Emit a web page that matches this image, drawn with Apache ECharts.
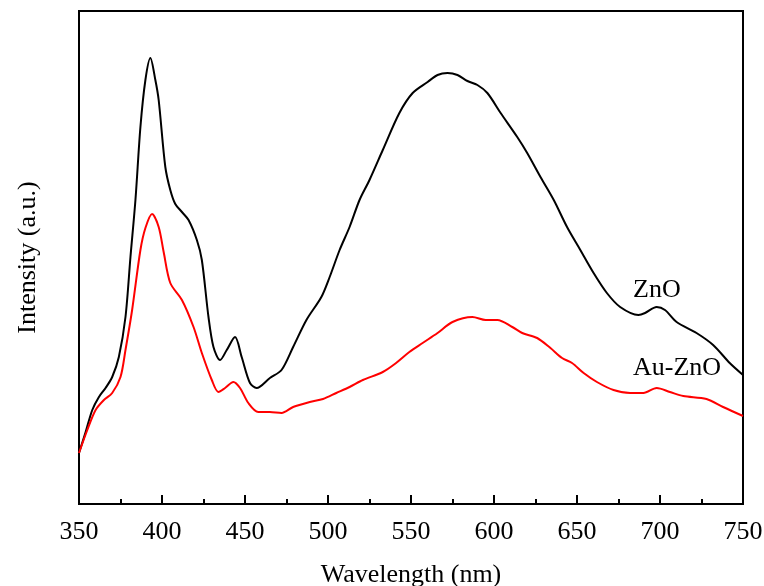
<!DOCTYPE html>
<html>
<head>
<meta charset="utf-8">
<script src="https://cdn.jsdelivr.net/npm/echarts@6/dist/echarts.min.js"></script>
<style>
  html, body { margin: 0; padding: 0; background: #fff; }
  #chart { width: 764px; height: 586px; }
</style>
</head>
<body>
<div id="chart"></div>
<script>
// wavelength (nm) / relative PL intensity
const znoWl = [350, 354, 358, 362, 366, 370, 374, 378, 381, 384, 387, 390, 393, 396, 398, 402, 405, 408, 412, 416, 421, 424, 428, 431, 435, 439, 444, 448, 453, 457, 465, 472, 479, 487, 496, 501, 507, 513, 519, 525, 533, 543, 551, 560, 566, 572, 578, 584, 590, 596, 604, 614, 620, 628, 636, 644, 652, 660, 668, 676, 687, 691, 698, 703, 710, 722, 732, 742, 750]
const znoVal = [51, 72, 94, 107, 116, 127, 147, 187, 247, 304, 377, 424, 446, 424, 404, 337, 314, 300, 292, 284, 264, 244, 187, 157, 144, 154, 167, 147, 121, 116, 126, 134, 157, 184, 207, 227, 254, 277, 304, 324, 354, 391, 411, 422, 429, 431, 429, 423, 419, 411, 391, 367, 351, 327, 304, 277, 254, 231, 211, 197, 189, 191, 197, 194, 182, 171, 159, 141, 129]

const auWl = [350, 355, 360, 365, 370, 375, 378, 382, 387, 390, 394, 398, 401, 405, 412, 419, 424, 430, 434, 438, 443, 447, 452, 458, 465, 472, 479, 489, 497, 505, 513, 521, 533, 541, 549, 557, 566, 575, 587, 595, 602, 611, 617, 626, 634, 641, 647, 654, 662, 672, 682, 690, 698, 706, 714, 728, 738, 750]
const auVal = [51, 74, 94, 104, 111, 127, 154, 194, 254, 276, 290, 277, 252, 221, 204, 177, 151, 124, 112, 116, 122, 116, 101, 92, 92, 91, 97, 102, 105, 111, 117, 124, 132, 141, 152, 161, 171, 182, 187, 184, 184, 177, 171, 166, 156, 146, 141, 131, 122, 114, 111, 111, 116, 112, 108, 105, 97, 88]

const xTicks = [350, 400, 450, 500, 550, 600, 650, 700, 750]

const serif = '"Liberation Serif", "Times New Roman", serif'
const pairs = (xs, ys) => xs.map((x, i) => [x, ys[i]])

const chart = echarts.init(document.getElementById('chart'), null, { renderer: 'canvas' })
chart.setOption({
    backgroundColor: '#fff',
    animation: false,
    grid: {
        left: 79,
        right: 21,
        top: 11,
        bottom: 82,
        outerBoundsMode: 'none',
        show: true,
        borderColor: '#000',
        borderWidth: 2,
    },
    xAxis: {
        type: 'value',
        min: xTicks[0],
        max: xTicks[xTicks.length - 1],
        interval: 50,
        name: 'Wavelength (nm)',
        nameLocation: 'middle',
        nameGap: 58,
        nameTextStyle: { fontFamily: serif, fontSize: 26, color: '#000' },
        axisLine: { show: true, lineStyle: { color: '#000', width: 2 } },
        axisTick: { show: true, inside: true, length: 9, lineStyle: { color: '#000', width: 2 } },
        minorTick: { show: true, splitNumber: 2, length: 5, lineStyle: { color: '#000', width: 2 } },
        axisLabel: { fontFamily: serif, fontSize: 26, color: '#000', margin: 15 },
        splitLine: { show: false },
    },
    yAxis: {
        type: 'value',
        min: 0,
        max: 493,
        name: 'Intensity (a.u.)',
        nameLocation: 'middle',
        nameGap: 38,
        nameTextStyle: { fontFamily: serif, fontSize: 26, color: '#000' },
        axisLine: { show: true, lineStyle: { color: '#000', width: 2 } },
        axisTick: { show: false },
        axisLabel: { show: false },
        splitLine: { show: false },
    },
    series: [
        {
            name: 'ZnO',
            type: 'line',
            data: pairs(znoWl, znoVal),
            smooth: 0.3,
            showSymbol: false,
            lineStyle: { color: '#000', width: 2 },
        },
        {
            name: 'Au-ZnO',
            type: 'line',
            data: pairs(auWl, auVal),
            smooth: 0.3,
            showSymbol: false,
            lineStyle: { color: '#ff0000', width: 2 },
        },
    ],
    graphic: [
        {
            type: 'text',
            left: 633,
            top: 277,
            style: { text: 'ZnO', font: '26px ' + serif, fill: '#000' },
        },
        {
            type: 'text',
            left: 633,
            top: 355,
            style: { text: 'Au-ZnO', font: '26px ' + serif, fill: '#000' },
        },
    ],
})
</script>
</body>
</html>
